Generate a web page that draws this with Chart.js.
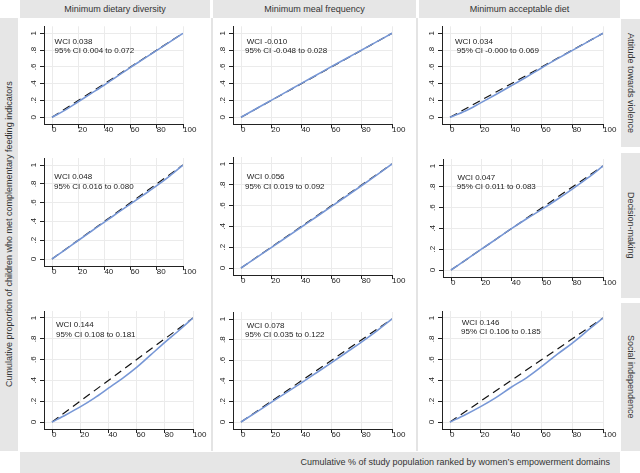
<!DOCTYPE html>
<html>
<head>
<meta charset="utf-8">
<script src="https://cdn.jsdelivr.net/npm/chart.js@4.4.1/dist/chart.umd.min.js"></script>
<style>
  html, body { margin: 0; padding: 0; background: #fff; }
  #fig { position: relative; width: 640px; height: 473px; overflow: hidden;
         font-family: "Liberation Sans", Arial, sans-serif; color: #333; }
  .strip { position: absolute; background: #e6e6e6; font-size: 9px; }
  .hdr { text-align: center; line-height: 18px; }
  .side { writing-mode: vertical-rl; display: flex; align-items: center; justify-content: center; }
  .left { transform: rotate(180deg); }
  .sep { position: absolute; background: #e4e4e4; }
  .cell { position: absolute; }
</style>
</head>
<body>
<div id="fig"></div>
<script>
// x positions of the curve points (cumulative % of population)
var xPoints = [0, 10, 20, 30, 40, 50, 60, 70, 80, 90, 100];
// line of equality
var equalityX = [0, 100];
var equalityY = [0, 1];
var xTicks = [0, 20, 40, 60, 80, 100];
var yTicks = [0, 0.2, 0.4, 0.6, 0.8, 1];
var yTickLabels = ['0', '.2', '.4', '.6', '.8', '1'];

var indicators = ['Minimum dietary diversity', 'Minimum meal frequency', 'Minimum acceptable diet'];
var domains = ['Attitude towards violence', 'Decision-making', 'Social independence'];

// concentration curves
var violenceDiversity = [0, 0.085, 0.185, 0.285, 0.385, 0.49, 0.595, 0.695, 0.797, 0.898, 1];
var violenceFrequency = [0, 0.101, 0.202, 0.303, 0.404, 0.504, 0.604, 0.703, 0.802, 0.901, 1];
var violenceDiet = [0, 0.075, 0.172, 0.272, 0.375, 0.48, 0.59, 0.695, 0.797, 0.898, 1];
var decisionDiversity = [0, 0.098, 0.197, 0.295, 0.393, 0.49, 0.587, 0.683, 0.78, 0.885, 1];
var decisionFrequency = [0, 0.098, 0.196, 0.295, 0.394, 0.493, 0.593, 0.692, 0.793, 0.895, 1];
var decisionDiet = [0, 0.1, 0.2, 0.3, 0.4, 0.495, 0.585, 0.68, 0.78, 0.885, 1];
var socialDiversity = [0, 0.07, 0.145, 0.23, 0.325, 0.42, 0.525, 0.645, 0.765, 0.88, 1];
var socialFrequency = [0, 0.094, 0.19, 0.285, 0.38, 0.478, 0.577, 0.677, 0.778, 0.885, 1];
var socialDiet = [0, 0.07, 0.148, 0.235, 0.334, 0.425, 0.534, 0.65, 0.759, 0.88, 1];

var curves = [
  [violenceDiversity, violenceFrequency, violenceDiet],
  [decisionDiversity, decisionFrequency, decisionDiet],
  [socialDiversity, socialFrequency, socialDiet]
];

var wciLabels = [
  ['WCI 0.038', 'WCI -0.010', 'WCI 0.034'],
  ['WCI 0.048', 'WCI 0.056', 'WCI 0.047'],
  ['WCI 0.144', 'WCI 0.078', 'WCI 0.146']
];
var ciLabels = [
  ['95% CI 0.004 to 0.072', '95% CI -0.048 to 0.028', '95% CI -0.000 to 0.069'],
  ['95% CI 0.016 to 0.080', '95% CI 0.019 to 0.092', '95% CI 0.011 to 0.083'],
  ['95% CI 0.108 to 0.181', '95% CI 0.035 to 0.122', '95% CI 0.106 to 0.185']
];

// ---- layout (page pixels) ----
var cols = [[20, 191], [213, 203], [418, 202]];
var rows = [[18, 131], [149, 152], [301, 151]];
// pixel of x=0, x=100, y=0, y=1 in each panel
var plotGeom = [
  [[52, 183, 117.3, 33.3], [241, 392, 117.3, 33.3], [450, 603, 117.3, 33.3]],
  [[52, 183, 259, 165], [241, 392, 268, 164], [451, 603, 270, 166]],
  [[52, 193, 422, 318], [241, 392, 422, 319], [450, 603, 422, 318]]
];
// annotation anchors in data units: [wciX, wciY, ciX, ciY]
var textAt = [
  [[2, 0.90, 2, 0.79], [3.8, 0.90, 2.6, 0.79], [3.3, 0.90, 4.4, 0.79]],
  [[1.8, 0.875, 1.5, 0.77], [3.8, 0.88, 2.6, 0.78], [4.2, 0.89, 3.8, 0.80]],
  [[2.8, 0.93, 2.8, 0.84], [3.8, 0.93, 2.6, 0.85], [7.6, 0.95, 7.2, 0.87]]
];
var OFFX = 8, OFFY = 7, AXW = 18, AXH = 16;
var FONT = '"Liberation Sans", Arial, sans-serif';
var BLUE = '#7797d6';

var fig = document.getElementById('fig');
function addDiv(cls, l, t, w, h, text) {
  var d = document.createElement('div');
  d.className = cls;
  d.style.left = l + 'px'; d.style.top = t + 'px';
  d.style.width = w + 'px'; d.style.height = h + 'px';
  if (text) {
    var s = document.createElement('span');
    s.textContent = text;
    d.appendChild(s);
  }
  fig.appendChild(d);
  return d;
}

// headers and strips
addDiv('strip hdr', 20, 0, 190, 18, indicators[0]);
addDiv('strip hdr', 213, 0, 203, 18, indicators[1]);
addDiv('strip hdr', 419, 0, 201, 18, indicators[2]);
addDiv('sep', 211, 18, 2, 433);
addDiv('sep', 416, 18, 2, 433);
addDiv('strip side', 621, 19, 19, 128, domains[0]);
addDiv('strip side', 621, 153, 19, 145, domains[1]);
addDiv('strip side', 621, 303, 19, 148, domains[2]);
addDiv('strip side left', 0, 18, 18, 433,
  'Cumulative proportion of children who met complementary feeding indicators');
var btitle = addDiv('strip', 20, 452, 600, 21,
  'Cumulative % of study population ranked by women\u2019s empowerment domains');
btitle.style.lineHeight = '21px';
btitle.style.textAlign = 'right';
btitle.style.boxSizing = 'border-box';
btitle.style.paddingRight = '10px';

// rotated y labels + WCI annotation
var panelText = {
  id: 'panelText',
  afterDraw: function(chart, args, opts) {
    var ctx = chart.ctx, xs = chart.scales.x, ys = chart.scales.y;
    ctx.save();
    ctx.fillStyle = '#222';
    ctx.font = '8px ' + FONT;
    ctx.textAlign = 'center';
    ctx.textBaseline = 'middle';
    yTicks.forEach(function(v, i) {
      ctx.save();
      ctx.translate(xs.left - 10.5, ys.getPixelForValue(v));
      ctx.rotate(-Math.PI / 2);
      ctx.fillText(yTickLabels[i], 0, 0);
      ctx.restore();
    });
    ctx.textAlign = 'left';
    ctx.fillText(opts.wci, xs.getPixelForValue(opts.at[0]), ys.getPixelForValue(opts.at[1]));
    ctx.fillText(opts.ci, xs.getPixelForValue(opts.at[2]), ys.getPixelForValue(opts.at[3]));
    ctx.restore();
  }
};

for (var r = 0; r < 3; r++) {
  for (var c = 0; c < 3; c++) {
    var g = plotGeom[r][c];
    var cx = cols[c][0], cw = cols[c][1], cy = rows[r][0], ch = rows[r][1];
    var box = addDiv('cell', cx, cy, cw, ch);
    var cv = document.createElement('canvas');
    box.appendChild(cv);

    var spanX = g[1] - g[0], spanY = g[2] - g[3];
    var pad = {
      left: (g[0] - OFFX) - cx - AXW,
      top: (g[3] - OFFY) - cy,
      right: cx + cw - g[1],
      bottom: cy + ch - (g[2] + OFFY) - AXH
    };
    var ys = curves[r][c];

    new Chart(cv.getContext('2d'), {
      type: 'line',
      data: {
        datasets: [{
          data: xPoints.map(function(x, i) { return { x: x, y: ys[i] }; }),
          borderColor: BLUE, borderWidth: 1.6, pointRadius: 0,
          cubicInterpolationMode: 'monotone', fill: false, order: 0
        }, {
          data: equalityX.map(function(x, i) { return { x: x, y: equalityY[i] }; }),
          borderColor: '#111', borderWidth: 1.2, borderDash: [8, 5],
          pointRadius: 0, fill: false, order: 1
        }]
      },
      options: {
        responsive: true, maintainAspectRatio: false, animation: false,
        layout: { padding: pad },
        plugins: {
          legend: { display: false }, tooltip: { enabled: false },
          panelText: { wci: wciLabels[r][c], ci: ciLabels[r][c], at: textAt[r][c] }
        },
        scales: {
          x: {
            type: 'linear', min: -OFFX * 100 / spanX, max: 100,
            afterBuildTicks: function(s) { s.ticks = xTicks.map(function(v) { return { value: v }; }); },
            afterFit: function(s) { s.height = AXH; },
            grid: { color: '#ebebeb', lineWidth: 1, drawTicks: true, tickLength: 4, tickColor: '#222', tickWidth: 1 },
            border: { display: true, color: '#222', width: 1 },
            ticks: { align: 'start', padding: -3, color: '#222', autoSkip: false,
                     maxRotation: 0, minRotation: 0, font: { family: FONT, size: 8 } }
          },
          y: {
            type: 'linear', min: -OFFY / spanY, max: 1 + OFFY / spanY,
            afterBuildTicks: function(s) { s.ticks = yTicks.map(function(v) { return { value: v }; }); },
            afterFit: function(s) { s.width = AXW; },
            grid: { color: '#ebebeb', lineWidth: 1, drawTicks: true, tickLength: 4, tickColor: '#222', tickWidth: 1 },
            border: { display: true, color: '#222', width: 1 },
            ticks: { display: false }
          }
        }
      },
      plugins: [panelText]
    });
  }
}
</script>
</body>
</html>
